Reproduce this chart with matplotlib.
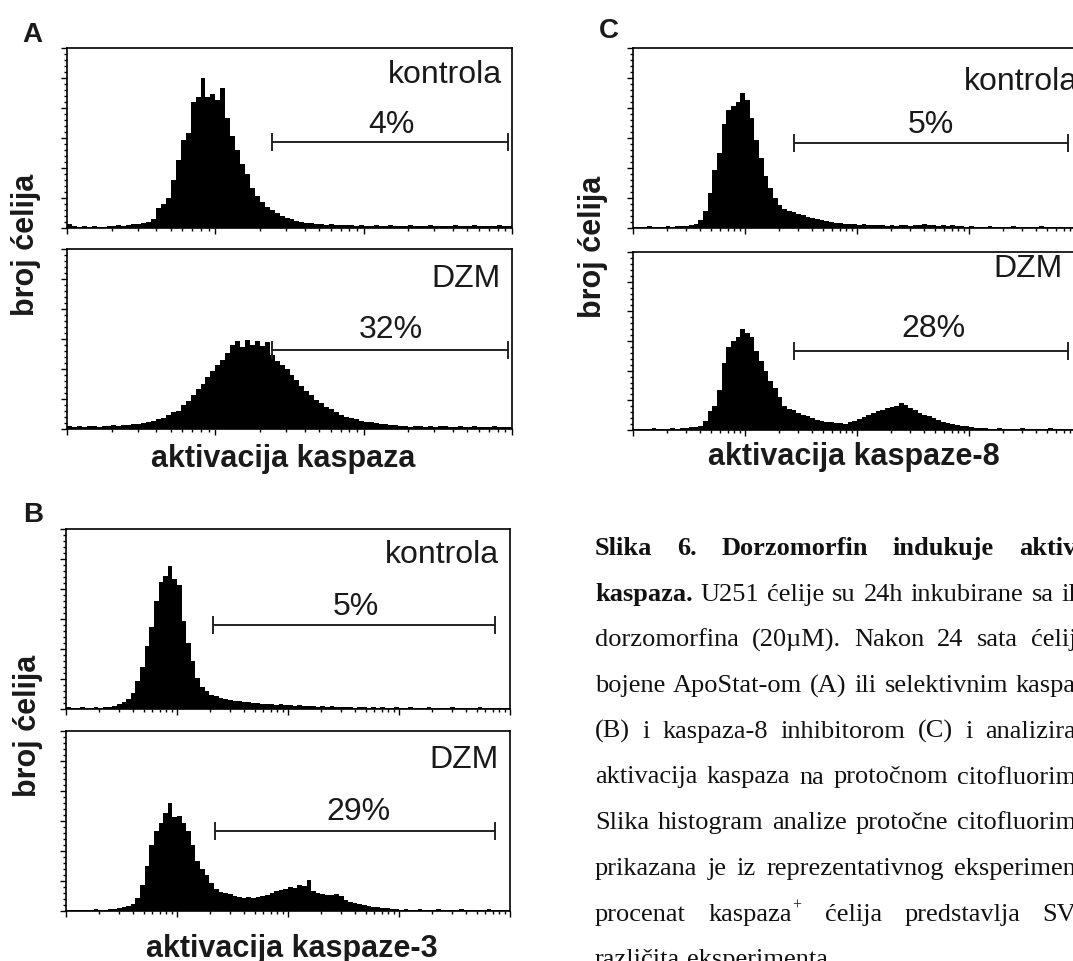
import numpy as np
import matplotlib
matplotlib.use('Agg')
import matplotlib.pyplot as plt
from matplotlib.ticker import MultipleLocator, LogLocator, NullFormatter

W, H = 1073, 961

# ---- histogram counts, log-spaced channel bins -------------------------
a_kontrola = [4, 2, 1, 2, 1, 2, 1, 1, 2, 2, 3, 2, 3, 4, 4, 5, 6, 9, 20, 24,
              30, 48, 68, 88, 95, 126, 131, 150, 131, 134, 128, 140, 110, 92, 78, 64, 54, 40, 32, 26,
              21, 18, 15, 12, 10, 9, 7, 6, 5, 5, 4, 4, 3, 4, 3, 3, 3,
              3, 2, 3, 2, 2, 3, 2, 2, 3, 2, 2, 2, 3, 2, 2, 2, 3, 2, 2, 2,
              2, 3, 2, 2, 2, 3, 2, 2, 2, 2, 3, 2, 2]
a_dzm = [3, 2, 3, 2, 3, 3, 2, 3, 3, 4, 3, 4, 4, 5, 5, 6, 7, 8, 10, 11,
         14, 17, 18, 24, 28, 34, 40, 45, 52, 58, 64, 69, 76, 84, 88, 82, 89, 84, 88, 83,
         87, 74, 68, 64, 60, 54, 49, 43, 38, 34, 29, 26, 22, 20, 17, 14, 12, 11, 10, 8,
         7, 7, 6, 5, 5, 4, 4,
         3, 3, 2, 3, 3, 2, 3, 2, 3, 3, 2, 2, 3, 2, 2, 3, 2, 2, 2, 3, 2, 2, 2]
b_kontrola = [2, 1, 1, 2, 1, 1, 2, 1, 2, 2, 3, 5, 7, 10, 16, 28, 42, 63, 82, 108,
              127, 133, 143, 130, 124, 88, 66, 48, 31, 22, 18, 14, 13, 11, 10, 9, 8, 8, 7, 7,
              6, 6, 5, 5, 5, 4, 5, 4, 4, 3, 4, 3, 3, 3, 2, 3, 2, 3, 2, 2, 2,
              2, 1, 2, 2, 1, 2, 1, 2, 1, 1, 2, 1, 1, 2, 1, 1, 1, 2, 1, 1,
              1, 1, 2, 1, 1, 1, 1, 1, 2, 1, 1, 1, 1, 1, 1]
b_dzm = [1, 1, 1, 1, 1, 1, 2, 1, 1, 2, 2, 3, 4, 5, 7, 13, 26, 45, 66, 80,
         88, 98, 108, 94, 95, 88, 80, 66, 50, 42, 36, 28, 22, 19, 18, 17, 15, 14, 13, 14,
         13, 14, 15, 16, 18, 20, 21, 22, 24, 23, 26, 25, 31, 20, 18, 17, 16, 16, 17, 15,
         11, 9, 8, 7, 6, 5, 4, 4, 3, 3, 2, 2,
         1, 2, 1, 1, 2, 1, 1, 1, 2, 1, 1, 1, 1, 2, 1, 1, 1, 1, 1, 2, 1, 1, 1, 1]
c_kontrola = [1, 1, 1, 2, 1, 1, 1, 2, 1, 2, 2, 2, 3, 4, 8, 17, 35, 58, 75, 104,
              118, 122, 126, 135, 128, 110, 88, 70, 52, 40, 30, 23, 19, 17, 16, 14, 13, 11, 10, 9,
              8, 7, 6, 5, 5, 4, 4, 4, 3, 4, 3, 3, 3, 3, 2, 3, 2, 3, 3, 2,
              3, 3, 4, 3, 3, 2, 3, 2, 3, 2, 2,
              1, 2, 1, 1, 1, 2, 1, 1, 1, 1, 2, 1, 1, 1, 1, 1, 2, 1, 1, 1, 1, 1, 1, 1, 1]
c_dzm = [1, 1, 1, 1, 2, 1, 1, 1, 2, 1, 2, 2, 3, 3, 4, 9, 19, 24, 40, 68,
         84, 90, 94, 102, 98, 94, 80, 70, 60, 50, 42, 33, 24, 21, 20, 17, 15, 14, 12, 10,
         9, 8, 8, 7, 7, 6, 8, 9, 11, 13, 15, 17, 19, 20, 22, 23, 24, 27, 25, 22,
         20, 17, 15, 14, 12, 10, 8, 7, 6, 5, 4, 4, 3, 2, 2, 2,
         1, 1, 2, 1, 1, 1, 1, 2, 1, 1, 1, 1, 1, 2, 1, 1, 1, 1, 1, 1]

# gate ranges (channel) and percentages
gate_a = [24, 940]
gate_b_k = [21, 7330]
gate_b_d = [22, 7330]
gate_c = [27.4, 7650]
pct_a = ['4%', '32%']
pct_b = ['5%', '29%']
pct_c = ['5%', '28%']
xlabels = ['aktivacija kaspaza', 'aktivacija kaspaze-3', 'aktivacija kaspaze-8']

caption = [
    [('Slika', 'bold'), ('6.', 'bold'), ('Dorzomorfin', 'bold'), ('indukuje', 'bold'), ('aktiv', 'bold')],
    [('kaspaza.', 'bold'), ('U251', 'normal'), ('ćelije', 'normal'), ('su', 'normal'), ('24h', 'normal'),
     ('inkubirane', 'normal'), ('sa', 'normal'), ('il', 'normal')],
    [('dorzomorfina', 'normal'), ('(20µM).', 'normal'), ('Nakon', 'normal'), ('24', 'normal'),
     ('sata', 'normal'), ('ćelij', 'normal')],
    [('bojene', 'normal'), ('ApoStat-om', 'normal'), ('(A)', 'normal'), ('ili', 'normal'),
     ('selektivnim', 'normal'), ('kaspa', 'normal')],
    [('(B)', 'normal'), ('i', 'normal'), ('kaspaza-8', 'normal'), ('inhibitorom', 'normal'),
     ('(C)', 'normal'), ('i', 'normal'), ('analizira', 'normal')],
    [('aktivacija', 'normal'), ('kaspaza', 'normal'), ('na', 'normal'), ('protočnom', 'normal'),
     ('citofluorim', 'normal')],
    [('Slika', 'normal'), ('histogram', 'normal'), ('analize', 'normal'), ('protočne', 'normal'),
     ('citofluorim', 'normal')],
    [('prikazana', 'normal'), ('je', 'normal'), ('iz', 'normal'), ('reprezentativnog', 'normal'),
     ('eksperimen', 'normal')],
    [('procenat', 'normal'), ('kaspaza', 'normal', '+'), ('ćelija', 'normal'), ('predstavlja', 'normal'),
     ('SV', 'normal')],
    [('različita', 'normal'), ('eksperimenta', 'normal')],
]

plt.rcParams['font.family'] = ['Liberation Sans', 'DejaVu Sans']
TXT = '#1a1a1a'

fig = plt.figure(figsize=(W / 100., H / 100.), dpi=100)


def px_axes(x0, y0, x1, y1):
    return fig.add_axes([x0 / W, 1 - y1 / H, (x1 - x0) / W, (y1 - y0) / H])


def hist_panel(ax, counts, ndec, gate, gate_y, tag, tag_xy, pct, pct_xy):
    edges = np.logspace(0, ndec, len(counts) + 1)
    ax.stairs(counts, edges, fill=True, color='black', lw=0)
    ax.set_xscale('log')
    ax.set_xlim(1, 10 ** ndec)
    ax.set_ylim(0, 180)
    ax.yaxis.set_major_locator(MultipleLocator(30))
    ax.yaxis.set_minor_locator(MultipleLocator(6))
    ax.xaxis.set_major_locator(LogLocator(base=10, numticks=10))
    ax.xaxis.set_minor_locator(LogLocator(base=10, subs=np.arange(2, 10), numticks=40))
    ax.xaxis.set_minor_formatter(NullFormatter())
    ax.tick_params(which='both', direction='out', labelbottom=False, labelleft=False,
                   top=False, right=False, width=1.0)
    ax.tick_params(which='major', length=4)
    ax.tick_params(which='minor', length=2.2)
    for s in ax.spines.values():
        s.set_linewidth(1.2)
    g0, g1 = gate
    ax.plot([g0, g1], [gate_y, gate_y], color='#222222', lw=1.4)
    for g in gate:
        ax.plot([g, g], [gate_y - 8, gate_y + 8], color='#222222', lw=1.4)
    ax.text(tag_xy[0], tag_xy[1], tag, transform=ax.transAxes, ha='right', va='baseline',
            fontsize=23, color=TXT)
    ax.text(pct_xy[0], pct_xy[1], pct, transform=ax.transAxes, ha='center', va='baseline',
            fontsize=23, color=TXT)


# ---- A
ax = px_axes(67, 48, 512, 228)
hist_panel(ax, a_kontrola, 3, gate_a, 86, 'kontrola', (0.978, 0.806), pct_a[0], (0.728, 0.528))
ax = px_axes(67, 249, 512, 429)
hist_panel(ax, a_dzm, 3, gate_a, 79, 'DZM', (0.975, 0.789), pct_a[1], (0.728, 0.506))
# ---- B
ax = px_axes(66, 529, 510, 709)
hist_panel(ax, b_kontrola, 4, gate_b_k, 84, 'kontrola', (0.975, 0.811), pct_b[0], (0.653, 0.522))
ax = px_axes(66, 731, 510, 911)
hist_panel(ax, b_dzm, 4, gate_b_d, 80, 'DZM', (0.975, 0.794), pct_b[1], (0.658, 0.506))
# ---- C
ax = px_axes(633, 48, 1081, 228)
hist_panel(ax, c_kontrola, 4, gate_c, 85, 'kontrola', (0.993, 0.765), pct_c[0], (0.665, 0.528))
ax = px_axes(633, 252, 1081, 430)
hist_panel(ax, c_dzm, 4, gate_c, 80, 'DZM', (0.96, 0.86), pct_c[1], (0.67, 0.522))


def ftext(x, y, s, **kw):
    return fig.text(x / W, 1 - y / H, s, **kw)


# panel letters
for lab, x, y in [('A', 32, 42), ('B', 33, 522), ('C', 609, 38)]:
    ftext(x, y, lab, fontsize=20, weight='bold', ha='center', va='baseline', color=TXT)
# y labels
for x, y in [(26, 245), (28, 726), (593, 247)]:
    ftext(x, y, 'broj ćelija', fontsize=22, weight='bold', rotation=90,
          ha='center', va='center', color=TXT)
# x labels
for s, x, y in zip(xlabels, [283, 292, 854], [467, 957, 465]):
    ftext(x, y, s, fontsize=22, weight='bold', ha='center', va='baseline', color=TXT)

# ---- caption, justified lines
cap_fs = 19
r = fig.canvas.get_renderer()
cap_left, cap_right = 595, 1076
space_px = cap_fs * 100 / 72. * 0.25
for i, words in enumerate(caption):
    yb = 555 + 45.7 * i
    items = []
    for w in words:
        t = ftext(0, yb, w[0], fontsize=cap_fs, family='Liberation Serif', weight=w[1],
                  ha='left', va='baseline', color='#111111')
        wd = t.get_window_extent(renderer=r).width
        sup = None
        if len(w) > 2:
            s = ftext(0, yb, w[2], fontsize=cap_fs * 0.6, family='Liberation Serif',
                      ha='left', va='baseline', color='#111111')
            sup = (s, wd)
            wd += s.get_window_extent(renderer=r).width + 2
        items.append((t, wd, sup))
    total = sum(it[1] for it in items)
    if i < len(caption) - 1:
        gap = max((cap_right - cap_left - total) / (len(items) - 1), space_px)
    else:
        gap = space_px
    x = cap_left
    for t, wd, sup in items:
        t.set_position((x / W, 1 - yb / H))
        if sup:
            s, off = sup
            s.set_position(((x + off + 1) / W, 1 - (yb - 11) / H))
        x += wd + gap

fig.savefig('out.png', dpi=100)
